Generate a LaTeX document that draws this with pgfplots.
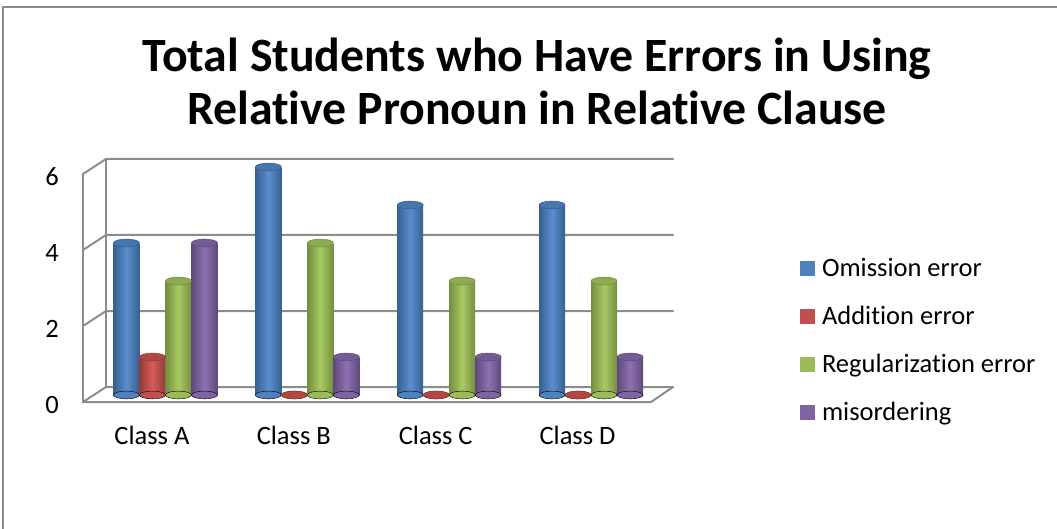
\documentclass[border=0pt]{standalone}
\usepackage{pgfplots}
\pgfplotsset{compat=1.18}
\usepackage{pgfplotstable}
\usepackage{fontspec}
\setmainfont{Carlito}[Ligatures={NoCommon}]

\definecolor{bM}{HTML}{4F81BD}\definecolor{bD}{HTML}{36608F}\definecolor{bL}{HTML}{5B8ED0}\definecolor{bC}{HTML}{4676AE}
\definecolor{rM}{HTML}{C0504D}\definecolor{rD}{HTML}{933B39}\definecolor{rL}{HTML}{D65C58}\definecolor{rC}{HTML}{B04946}
\definecolor{gM}{HTML}{9BBB59}\definecolor{gD}{HTML}{748E40}\definecolor{gL}{HTML}{A9CA63}\definecolor{gC}{HTML}{8DAB50}
\definecolor{pM}{HTML}{8064A2}\definecolor{pD}{HTML}{5F4A7A}\definecolor{pL}{HTML}{8E71B3}\definecolor{pC}{HTML}{755C95}
\definecolor{gridc}{HTML}{8C8C8C}
\definecolor{framec}{HTML}{8A8A8A}

\pgfplotstableread{
x omission addition regular misorder base
0 4 1 3 4 0
1 6 0 4 1 0
2 5 0 3 1 0
3 5 0 3 1 0
}\datatable

\begin{document}
\begin{tikzpicture}[x=1pt,y=1pt]
\useasboundingbox (0,0) rectangle (1057,-529);
\draw[line width=2pt, framec] (3,-540) -- (3,-7) -- (1070,-7);
\node[anchor=base, inner sep=0pt, font=\bfseries\fontsize{47.8}{55}\selectfont] at (537,-72) {Total Students who Have Errors in Using};
\node[anchor=base, inner sep=0pt, font=\bfseries\fontsize{47.8}{55}\selectfont] at (537,-125) {Relative Pronoun in Relative Clause};
\tikzset{wall/.style={gridc, line width=2pt, line cap=round}}
\foreach \v in {0,2,4,6} {
  \pgfmathsetmacro\yb{-387+38*\v}
  \pgfmathsetmacro\yf{-402+38*\v}
  \draw[wall] (83,\yf) -- (106,\yb) -- (673,\yb);
}
\draw[wall] (83,-402) -- (83,-174);
\draw[wall] (106,-387) -- (106,-159);
\draw[wall, line join=round] (83,-402) -- (651,-402) -- (673,-387);

\begin{axis}[
  at={(94.5pt,-395pt)}, anchor=south west,
  scale only axis, width=567.5pt, height=228pt,
  xmin=-0.5, xmax=3.5, ymin=0, ymax=6,
  clip=false,
  axis line style={draw=none}, tick style={draw=none},
  xtick={0,1,2,3}, xticklabels={Class A, Class B, Class C, Class D},
  ytick={0,2,4,6},
  /pgf/number format/assume math mode=true,
  ticklabel style={font=\fontsize{26.5}{30}\selectfont},
  yticklabel style={anchor=east, inner sep=0pt, xshift=-35.5pt, yshift=-9.5pt},
  xticklabel style={anchor=base, inner sep=0pt, yshift=-49pt, xshift=-13.5pt},
  legend image code/.code={\path[#1] (0pt,-7.5pt) rectangle (15pt,7.5pt);},
  legend style={at={(axis description cs:1.2432,0.5939)}, anchor=north west,
    draw=none, fill=none, inner sep=0pt, outer sep=0pt,
    font=\fontsize{26.5}{30}\selectfont, row sep=31pt,
    nodes={inner sep=0pt, text height=17pt, text depth=0pt},
    /tikz/every odd column/.append style={column sep=7pt}},
  legend cell align=left,
  capstyle/.style n args={3}{forget plot, only marks, mark=*, mark size=13pt,
    mark options={xshift=#1, yscale=0.3, fill=#2, draw=#3, line width=0.6pt}},
  basestyle/.style n args={2}{forget plot, only marks, mark=*, mark size=13pt,
    mark options={xshift=#1, yscale=0.3, fill=#2, draw=none}},
  cyl/.style n args={4}{forget plot, ybar, bar width=26pt, bar shift=#1, draw=none,
    left color=#2, right color=#4, middle color=#3},
]
% bottoms of the cylinders
\addplot[basestyle={-39pt}{bM}] table[x=x,y=base]{\datatable};
\addplot[basestyle={-13pt}{rM}] table[x=x,y=base]{\datatable};
\addplot[basestyle={13pt}{gM}] table[x=x,y=base]{\datatable};
\addplot[basestyle={39pt}{pM}] table[x=x,y=base]{\datatable};
% bodies, one plot per bar so that each bar gets its own shading
\pgfplotsinvokeforeach{0,1,2,3}{
  \addplot[cyl={-39pt}{bD}{bL}{bD}, restrict expr to domain={\coordindex}{#1:#1}] table[x=x,y=omission]{\datatable};
  \addplot[cyl={-13pt}{rD}{rL}{rD}, restrict expr to domain={\coordindex}{#1:#1}] table[x=x,y=addition]{\datatable};
  \addplot[cyl={13pt}{gD}{gL}{gD}, restrict expr to domain={\coordindex}{#1:#1}] table[x=x,y=regular]{\datatable};
  \addplot[cyl={39pt}{pD}{pL}{pD}, restrict expr to domain={\coordindex}{#1:#1}] table[x=x,y=misorder]{\datatable};
}
% tops of the cylinders
\addplot[capstyle={-39pt}{bC}{bD}] table[x=x,y=omission]{\datatable};
\addplot[capstyle={-13pt}{rC}{rD}] table[x=x,y=addition]{\datatable};
\addplot[capstyle={13pt}{gC}{gD}] table[x=x,y=regular]{\datatable};
\addplot[capstyle={39pt}{pC}{pD}] table[x=x,y=misorder]{\datatable};

\addlegendimage{fill=bM, draw=none}\addlegendentry{Omission error}
\addlegendimage{fill=rM, draw=none}\addlegendentry{Addition error}
\addlegendimage{fill=gM, draw=none}\addlegendentry{Regularization error}
\addlegendimage{fill=pM, draw=none}\addlegendentry{misordering}
\end{axis}
\end{tikzpicture}
\end{document}
